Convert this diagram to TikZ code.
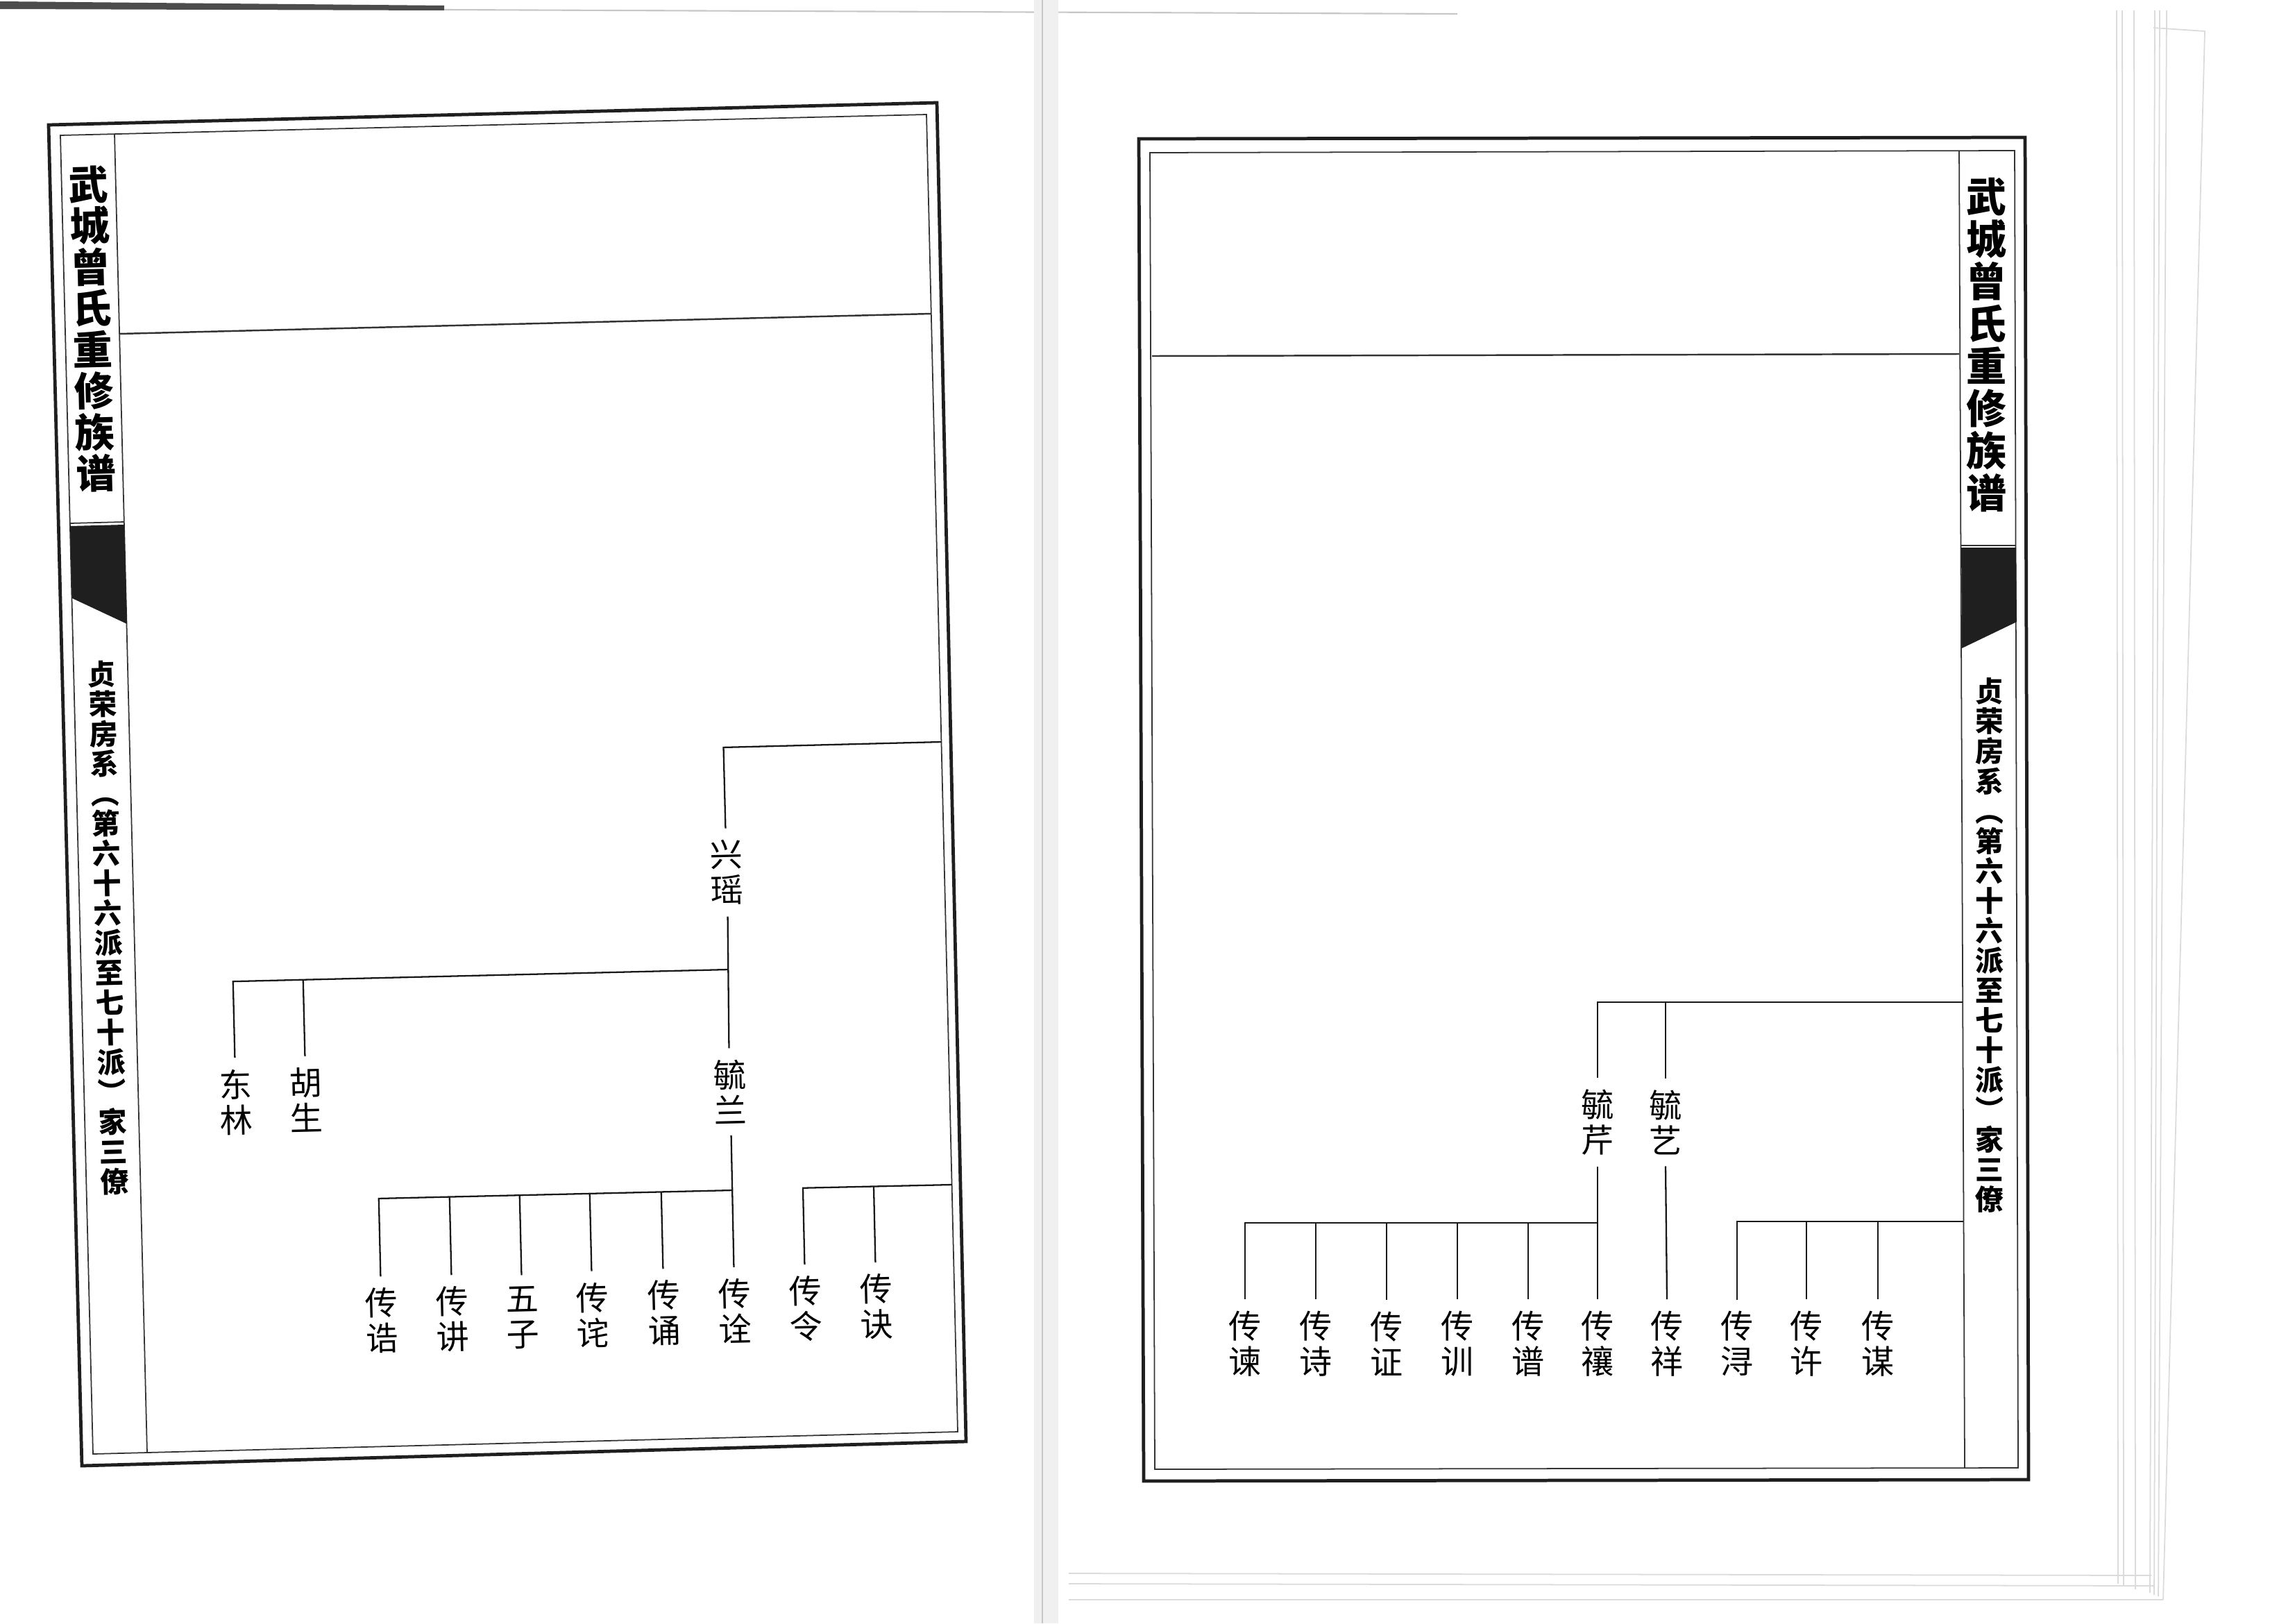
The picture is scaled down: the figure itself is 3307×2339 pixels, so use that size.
\documentclass[tikz,border=0pt]{standalone}
\usepackage{graphicx}
\usepackage{fontspec}
\newfontfamily\cjk{Noto Sans CJK SC}
\usetikzlibrary{calc}
\newcommand{\vlp}{\rotatebox[origin=c]{-90}{（}}
\newcommand{\vrp}{\rotatebox[origin=c]{-90}{）}}
\tikzset{
  frameout/.style={draw=black!88, line width=1.35pt, line join=miter},
  framein/.style={draw=black!80, line width=0.5pt},
  rowsep/.style={draw=black!80, line width=0.7pt},
  conn/.style={draw=black!90, line width=0.65pt},
  nm/.style={font=\cjk\fontsize{13.4}{14.5}\selectfont, align=center, inner xsep=0pt, inner ysep=0.16cm},
  lrot/.style={rotate=1.42},
  ttl/.style={font=\cjk\bfseries\fontsize{16.3}{16.93}\selectfont, align=center, inner sep=0pt},
  ttlr/.style={font=\cjk\bfseries\fontsize{16.5}{17.35}\selectfont, align=center, inner sep=0pt},
  subt/.style={font=\cjk\bfseries\fontsize{11.6}{12.23}\selectfont, align=center, inner sep=0pt},
  scanedge/.style={draw=black!22, line width=0.6pt},
  pageedge/.style={draw=black!14, line width=0.5pt},
}
\begin{document}
\begin{tikzpicture}[x=0.01cm,y=-0.01cm]
\useasboundingbox (0,0) rectangle (3307,2339);
\fill[white] (0,0) rectangle (3307,2339);

% ---------- scan surroundings ----------
\fill[black!70] (0,2) -- (640,8) -- (640,15) -- (0,13) -- cycle;
\draw[scanedge] (640,14) -- (2100,20);
\fill[black!6] (1490,0) rectangle (1525,2339);
\draw[scanedge] (1502,0) -- (1502,2339);
\draw[pageedge] (3050,15) -- (3052,2282);
\draw[pageedge] (3058,15) -- (3060,2285);
\draw[pageedge] (3075,15) -- (3077,2290);
\draw[pageedge] (3105,15) -- (3098,2295);
\draw[pageedge] (3112,15) -- (3104,2298);
\draw[pageedge] (3122,15) -- (3110,2300);
\draw[pageedge] (3103,40) -- (3177,45) -- (3117,2305);
\draw[pageedge] (1540,2267) -- (3100,2270);
\draw[pageedge] (1540,2282) -- (3105,2285);
\draw[pageedge] (1540,2305) -- (3117,2305);

% ---------- LEFT PAGE frames ----------
\draw[frameout] (70,180) -- (1350,148) -- (1392,2077) -- (118,2112) -- cycle;
\draw[framein] (87,195) -- (1335,165) -- (1380,2063) -- (134,2095) -- cycle;
\draw[framein] (165,193) -- (212,2093);
\draw[rowsep] (172,481) -- (1342,452);
\draw[framein] (101,754) -- (179,752);
\fill[black!88] (101,758) -- (179,756) -- (183,899) -- (104,862) -- cycle;
\node[ttl,lrot] (ltitle) at (133,474) {武\\城\\曾\\氏\\重\\修\\族\\谱};
\node[subt,lrot] (lsub) at (156,1337) {贞\\荣\\房\\系\\\vlp\\第\\六\\十\\六\\派\\至\\七\\十\\派\\\vrp\\家\\三\\僚};

% ---------- LEFT PAGE tree ----------
\node[nm,lrot] (xy) at (1047,1257) {兴\\瑶};
\node[nm,lrot] (dl) at (340,1588) {东\\林};
\node[nm,lrot] (hs) at (441,1585) {胡\\生};
\node[nm,lrot] (yl) at (1052,1573) {毓\\兰};
\node[nm,lrot] (g1) at (550,1903) {传\\诰};
\node[nm,lrot] (g2) at (652,1901) {传\\讲};
\node[nm,lrot] (g3) at (753,1899) {五\\子};
\node[nm,lrot] (g4) at (854,1895) {传\\诧};
\node[nm,lrot] (g5) at (957,1892) {传\\诵};
\node[nm,lrot] (g6) at (1059,1889) {传\\诠};
\node[nm,lrot] (g7) at (1161,1886) {传\\令};
\node[nm,lrot] (g8) at (1263,1883) {传\\诀};

\coordinate (a2) at (1356,1069);
\coordinate (aref) at (1000,1078);
\draw[conn] (a2) -- ($(a2)!(xy.north)!(aref)$) -- (xy.north);

\coordinate (b2) at (1049,1397);
\coordinate (bref) at (300,1415);
\draw[conn] (b2) -- ($(bref)!(dl.north)!(b2)$) -- (dl.north);
\draw[conn] ($(bref)!(hs.north)!(b2)$) -- (hs.north);
\draw[conn] (xy.south) -- (yl.north);

\coordinate (c2) at (1056,1715);
\coordinate (cref) at (500,1728);
\draw[conn] (c2) -- ($(cref)!(g1.north)!(c2)$) -- (g1.north);
\foreach \k in {g2,g3,g4,g5}{
  \draw[conn] ($(cref)!(\k.north)!(c2)$) -- (\k.north);
}
\draw[conn] (yl.south) -- (g6.north);

\coordinate (d2) at (1372,1707);
\coordinate (dref) at (1100,1713);
\draw[conn] (d2) -- ($(dref)!(g7.north)!(d2)$) -- (g7.north);
\draw[conn] ($(dref)!(g8.north)!(d2)$) -- (g8.north);

% ---------- RIGHT PAGE frames ----------
\draw[frameout] (1641,200) -- (2918,198) -- (2923,2132) -- (1648,2134) -- cycle;
\draw[framein] (1657,220) -- (2903,217) -- (2908,2115) -- (1664,2117) -- cycle;
\draw[framein] (2823,217) -- (2831,2115);
\draw[rowsep] (1660,513) -- (2823,510);
\draw[framein] (2826,786) -- (2905,786);
\fill[black!88] (2826,789) -- (2905,789) -- (2906,896) -- (2827,934) -- cycle;
\node[ttlr] (rtitle) at (2862,497) {武\\城\\曾\\氏\\重\\修\\族\\谱};
\node[subt] (rsub) at (2867,1362) {贞\\荣\\房\\系\\\vlp\\第\\六\\十\\六\\派\\至\\七\\十\\派\\\vrp\\家\\三\\僚};

% ---------- RIGHT PAGE tree ----------
\node[nm] (r1) at (2302,1617) {毓\\芹};
\node[nm] (r2) at (2400,1617) {毓\\艺};
\node[nm] (s1) at (1794,1936) {传\\谏};
\node[nm] (s2) at (1896,1936) {传\\诗};
\node[nm] (s3) at (1998,1936) {传\\证};
\node[nm] (s4) at (2100,1936) {传\\训};
\node[nm] (s5) at (2202,1936) {传\\谱};
\node[nm] (s6) at (2302,1936) {传\\禳};
\node[nm] (s7) at (2402,1936) {传\\祥};
\node[nm] (s8) at (2503,1936) {传\\浔};
\node[nm] (s9) at (2603,1936) {传\\许};
\node[nm] (s10) at (2706,1936) {传\\谋};

\coordinate (e2) at (2828,1444);
\draw[conn] (e2) -- (r1.north |- e2) -- (r1.north);
\draw[conn] (r2.north |- e2) -- (r2.north);

\coordinate (f2) at (2302,1762);
\draw[conn] (f2) -- (s1.north |- f2) -- (s1.north);
\foreach \k in {s2,s3,s4,s5}{
  \draw[conn] (\k.north |- f2) -- (\k.north);
}
\draw[conn] (r1.south) -- (s6.north);
\draw[conn] (r2.south) -- (s7.north);

\coordinate (h2) at (2829,1760);
\draw[conn] (h2) -- (s8.north |- h2) -- (s8.north);
\draw[conn] (s9.north |- h2) -- (s9.north);
\draw[conn] (s10.north |- h2) -- (s10.north);
\end{tikzpicture}
\end{document}
